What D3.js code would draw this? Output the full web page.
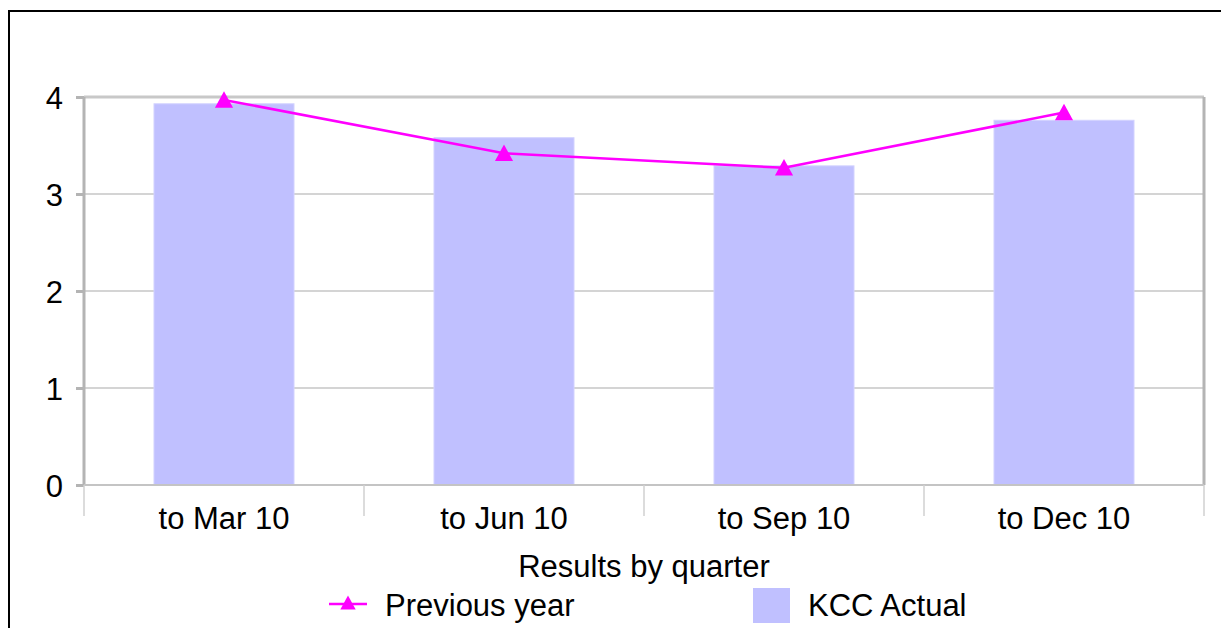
<!DOCTYPE html>
<html>
<head>
<meta charset="utf-8">
<script src="https://cdn.jsdelivr.net/npm/d3@7"></script>
<style>
  html, body { margin: 0; padding: 0; background: #fff; }
  svg { display: block; font-family: "Liberation Sans", Arial, sans-serif; }
</style>
</head>
<body>
<script>
// Quarterly results: actual bars against the previous year's line
const quarters = ["to Mar 10", "to Jun 10", "to Sep 10", "to Dec 10"];
const kccActual = [3.93, 3.58, 3.29, 3.76];
const previousYear = [3.97, 3.42, 3.27, 3.84];
const yTicks = [0, 1, 2, 3, 4];
const xTitle = "Results by quarter";
const legendLabels = ["Previous year", "KCC Actual"];

const W = 1221, H = 628;
const plot = { left: 84, right: 1204, top: 97, bottom: 485 };
const barColor = "#c0c0ff";
const lineColor = "#ff00ff";
const fontSize = 31;

const svg = d3.select("body").append("svg")
  .attr("width", W).attr("height", H);

// outer frame (open on the right and bottom)
svg.append("rect")
  .attr("x", 9).attr("y", 11)
  .attr("width", W + 20).attr("height", H + 20)
  .attr("fill", "none").attr("stroke", "#000").attr("stroke-width", 2);

const x = d3.scaleBand().domain(quarters).range([plot.left, plot.right]).padding(0);
const y = d3.scaleLinear().domain([0, 4]).range([plot.bottom, plot.top]);

// horizontal gridlines
svg.append("g").selectAll("line")
  .data(yTicks.filter(d => d > 0 && d < 4))
  .join("line")
  .attr("x1", plot.left).attr("x2", plot.right)
  .attr("y1", d => y(d)).attr("y2", d => y(d))
  .attr("stroke", "#d4d4d4").attr("stroke-width", 2);

// bars
svg.append("g").selectAll("rect")
  .data(quarters)
  .join("rect")
  .attr("x", d => x(d) + x.bandwidth() * 0.25)
  .attr("width", x.bandwidth() * 0.5)
  .attr("y", (d, i) => y(kccActual[i]))
  .attr("height", (d, i) => y(0) - y(kccActual[i]))
  .attr("fill", barColor)
  .attr("stroke", "#d2d2ff").attr("stroke-width", 1);

// plot frame: top edge, left and right sides, baseline
const frame = svg.append("g").attr("fill", "none");
frame.append("line")
  .attr("x1", plot.left).attr("x2", plot.right)
  .attr("y1", y(4)).attr("y2", y(4))
  .attr("stroke", "#c8c8c8").attr("stroke-width", 3);
frame.append("line")
  .attr("x1", plot.left).attr("x2", plot.left)
  .attr("y1", y(4)).attr("y2", y(0))
  .attr("stroke", "#b4b4b4").attr("stroke-width", 3);
frame.append("line")
  .attr("x1", plot.right).attr("x2", plot.right)
  .attr("y1", y(4)).attr("y2", y(0))
  .attr("stroke", "#b4b4b4").attr("stroke-width", 3);
frame.append("line")
  .attr("x1", plot.left).attr("x2", plot.right)
  .attr("y1", y(0)).attr("y2", y(0))
  .attr("stroke", "#c4c4c4").attr("stroke-width", 2);

// y axis: short ticks and labels
const yAxis = d3.axisLeft(y).tickValues(yTicks).tickSize(8).tickPadding(13).tickFormat(d3.format("d"));
const gy = svg.append("g").attr("transform", `translate(${plot.left},0)`).call(yAxis);
gy.select(".domain").remove();
gy.selectAll(".tick line").attr("stroke", "#b4b4b4").attr("stroke-width", 3);
gy.selectAll(".tick text")
  .attr("fill", "#000").attr("font-size", fontSize)
  .attr("font-family", "Liberation Sans, Arial, sans-serif")
  .attr("dy", "0.36em");

// category separators below the baseline
const bounds = quarters.map(q => x(q)).concat([plot.right]);
svg.append("g").selectAll("line")
  .data(bounds)
  .join("line")
  .attr("x1", d => d).attr("x2", d => d)
  .attr("y1", y(0)).attr("y2", y(0) + 31)
  .attr("stroke", "#d0d0d0").attr("stroke-width", 1.5);

// category labels
svg.append("g").selectAll("text")
  .data(quarters)
  .join("text")
  .attr("x", d => x(d) + x.bandwidth() / 2)
  .attr("y", 529)
  .attr("text-anchor", "middle")
  .attr("font-size", fontSize)
  .text(d => d);

// axis title
svg.append("text")
  .attr("x", (plot.left + plot.right) / 2).attr("y", 577)
  .attr("text-anchor", "middle").attr("font-size", fontSize)
  .text(xTitle);

// previous-year line with triangle markers
const line = d3.line()
  .x((d, i) => x(quarters[i]) + x.bandwidth() / 2)
  .y(d => y(d));
svg.append("path")
  .datum(previousYear)
  .attr("d", line)
  .attr("fill", "none").attr("stroke", lineColor).attr("stroke-width", 2.5);

const tri = (cx, cy, s) => `M${cx},${cy - s * 0.53}L${cx + s * 0.55},${cy + s * 0.47}L${cx - s * 0.55},${cy + s * 0.47}Z`;
svg.append("g").selectAll("path")
  .data(previousYear)
  .join("path")
  .attr("d", (d, i) => tri(x(quarters[i]) + x.bandwidth() / 2, y(d), 16.5))
  .attr("fill", lineColor);

// legend
const lg = svg.append("g");
lg.append("line")
  .attr("x1", 329).attr("x2", 367).attr("y1", 604).attr("y2", 604)
  .attr("stroke", lineColor).attr("stroke-width", 2.5);
lg.append("path").attr("d", tri(348, 603, 14)).attr("fill", lineColor);
lg.append("text").attr("x", 385).attr("y", 616).attr("font-size", fontSize).text(legendLabels[0]);
lg.append("rect")
  .attr("x", 753).attr("y", 588).attr("width", 37).attr("height", 35)
  .attr("fill", barColor);
lg.append("text").attr("x", 808).attr("y", 616).attr("font-size", fontSize).text(legendLabels[1]);
</script>
</body>
</html>
